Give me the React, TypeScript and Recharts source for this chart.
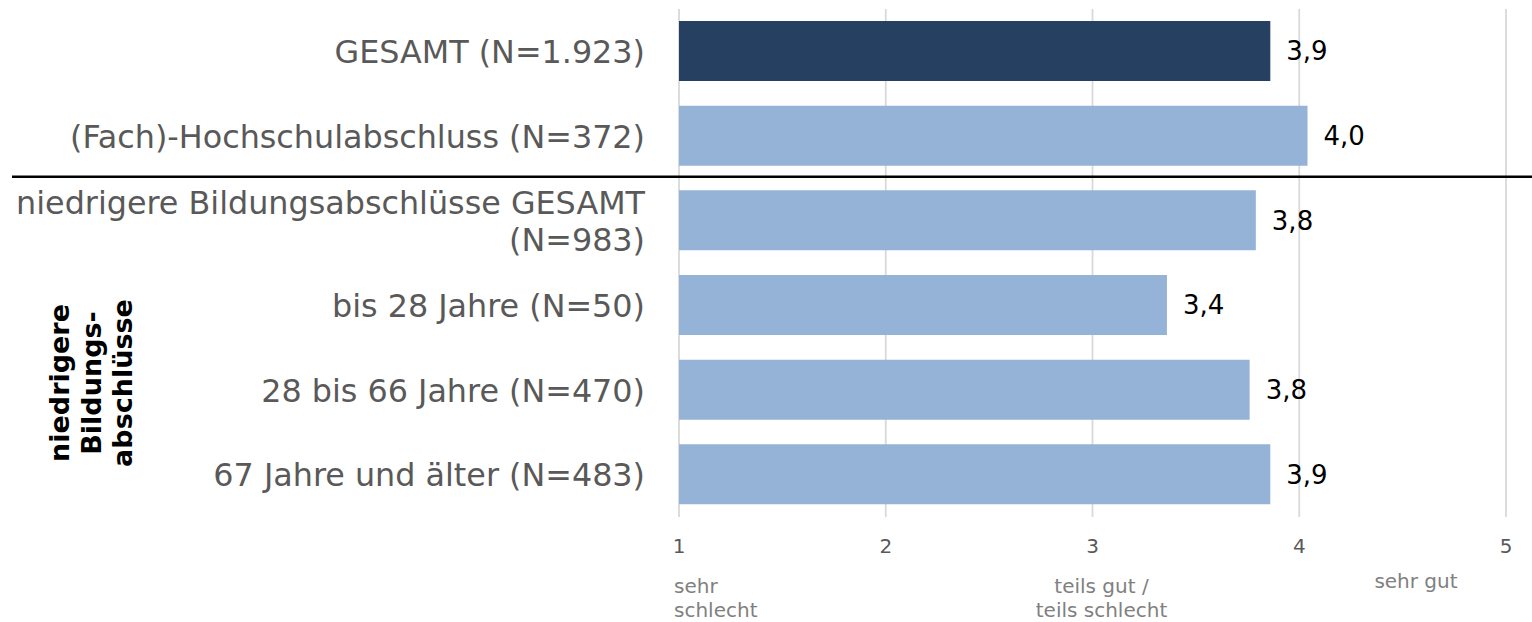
import React from "react";
import { BarChart, Bar, XAxis, YAxis, CartesianGrid, Cell, LabelList, ReferenceLine, Customized } from "recharts";

const categories = [
  "GESAMT (N=1.923)",
  "(Fach)-Hochschulabschluss (N=372)",
  "niedrigere Bildungsabschlüsse GESAMT|(N=983)",
  "bis 28 Jahre (N=50)",
  "28 bis 66 Jahre (N=470)",
  "67 Jahre und älter (N=483)",
];
const values = [3.86, 4.04, 3.79, 3.36, 3.76, 3.86];
const isTotal = [true, false, false, false, false, false];
const xTicks = [1, 2, 3, 4, 5];
const scaleNotes: Record<number, { lines: string[]; anchor: "start" | "middle"; dx: number; dy: number }> = {
  1: { lines: ["sehr", "schlecht"], anchor: "start", dx: -5, dy: 84 },
  3: { lines: ["teils gut /", "teils schlecht"], anchor: "middle", dx: 9, dy: 84 },
  5: { lines: ["sehr gut"], anchor: "middle", dx: -90, dy: 71 },
};
const groupLabel = ["niedrigere", "Bildungs-", "abschlüsse"];
const dividerBefore = categories[2];

const data = categories.map((name, i) => ({ name, value: values[i], total: isTotal[i] }));

const FONT = "'DejaVu Sans', Verdana, sans-serif";

const YTick = (props: any) => {
  const { x, y, payload } = props;
  const lines = String(payload.value).split("|");
  const lh = 37;
  const start = -((lines.length - 1) * lh) / 2;
  return (
    <text x={x - 34} y={y} textAnchor="end" fill="#595959" fontSize={31.8} fontFamily={FONT}>
      {lines.map((l, i) => (
        <tspan key={i} x={x - 34} dy={i === 0 ? start + 11.5 : lh}>
          {l}
        </tspan>
      ))}
    </text>
  );
};

const XTick = (props: any) => {
  const { x, y, payload } = props;
  const note = scaleNotes[payload.value];
  return (
    <g>
      <text x={x} y={y + 36} textAnchor="middle" fill="#595959" fontSize={20} fontFamily={FONT}>
        {payload.value}
      </text>
      {note && (
        <text x={x + note.dx} y={y + note.dy - (note.lines.length > 1 ? 8 : 0)} textAnchor={note.anchor} fill="#808080" fontSize={20} fontFamily={FONT}>
          {note.lines.map((l, i) => (
            <tspan key={i} x={x + note.dx} dy={i === 0 ? 0 : 24}>
              {l}
            </tspan>
          ))}
        </text>
      )}
    </g>
  );
};

const Divider = (props: any) => {
  const { y1 } = props;
  return <line x1={4} x2={1524} y1={y1 - 1.5} y2={y1 - 1.5} stroke="#000" strokeWidth={2.5} />;
};

const GroupLabel = () => (
  <text
    transform="translate(83,375) rotate(-90)"
    textAnchor="middle"
    fontSize={27}
    fontWeight="bold"
    fill="#000"
    fontFamily={FONT}
  >
    {groupLabel.map((l, i) => (
      <tspan key={i} x={0} dy={i === 0 ? -31.5 + 9.5 : 31.5}>
        {l}
      </tspan>
    ))}
  </text>
);

export default function App() {
  return (
    <div style={{ padding: "8px 0 0 8px", width: 1524, height: 614, overflow: "hidden" }}>
      <style>{"html,body{margin:0;padding:0;overflow:hidden;}"}</style>
      <BarChart
        width={1524}
        height={614}
        data={data}
        layout="vertical"
        margin={{ top: 1, right: 26, bottom: 0, left: 0 }}
        style={{ fontFamily: FONT }}
      >
        <CartesianGrid horizontal={false} vertical={true} stroke="#d9d9d9" strokeWidth={1.8} />
        <XAxis
          type="number"
          domain={[1, 5]}
          ticks={xTicks}
          axisLine={false}
          tickLine={false}
          tickSize={0}
          tickMargin={0}
          height={105}
          tick={<XTick />}
          interval={0}
        />
        <YAxis
          type="category"
          dataKey="name"
          width={671}
          axisLine={false}
          tickLine={false}
          tickSize={0}
          tickMargin={0}
          tick={<YTick />}
          interval={0}
        />
        <Bar dataKey="value" barSize={60} isAnimationActive={false}>
          {data.map((d, i) => (
            <Cell key={i} fill={d.total ? "#264061" : "#95B3D7"} />
          ))}
          <LabelList
            dataKey="value"
            position="right"
            offset={16}
            fill="#000"
            fontSize={26}
            fontFamily={FONT}
            formatter={(v: any) => Number(v).toFixed(1).replace(".", ",")}
          />
        </Bar>
        <ReferenceLine y={dividerBefore} position="start" ifOverflow="visible" shape={<Divider />} />
        <Customized component={<GroupLabel />} />
      </BarChart>
    </div>
  );
}
